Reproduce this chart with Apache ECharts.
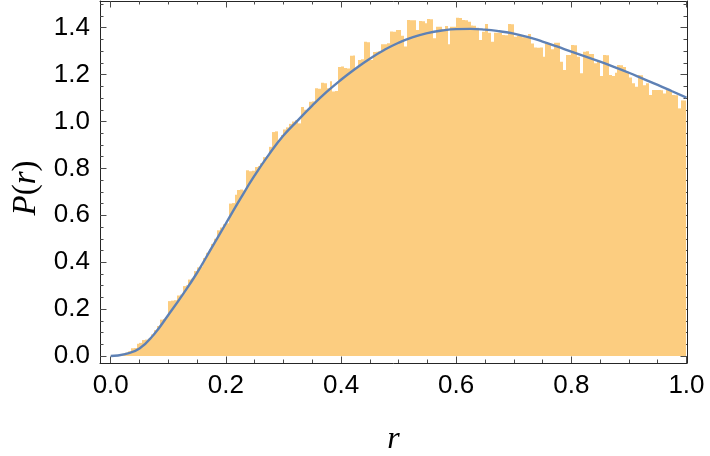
<!DOCTYPE html>
<html>
<head>
<meta charset="utf-8">
<script src="https://cdn.jsdelivr.net/npm/echarts@6/dist/echarts.min.js"></script>
<style>html,body{margin:0;padding:0;background:#fff;}#c{width:710px;height:456px;}</style>
</head>
<body>
<div id="c"></div>
<script>
// ---- data ----
const binWidth = 0.005;
const histValues = [
 0.001,0.003,0.004,0.006,0.009, 0.014,0.020,0.033,0.034,0.052,
 0.056,0.068,0.070,0.074,0.092, 0.110,0.128,0.155,0.158,0.164,
 0.234,0.236,0.238,0.258,0.262, 0.298,0.302,0.326,0.330,0.362,
 0.378,0.382,0.418,0.440,0.455, 0.478,0.500,0.536,0.548,0.562,
 0.566,0.650,0.652,0.688,0.708, 0.710,0.706,0.792,0.788,0.790,
 0.806,0.810,0.822,0.848,0.852, 0.892,0.955,0.958,0.920,0.942,
 0.966,0.975,0.990,1.000,1.006, 0.992,1.062,1.050,1.048,1.084,
 1.086,1.142,1.140,1.165,1.163, 1.142,1.172,1.128,1.130,1.232,
 1.235,1.228,1.226,1.280,1.282, 1.228,1.262,1.266,1.340,1.338,
 1.262,1.296,1.298,1.300,1.330, 1.330,1.334,1.384,1.383,1.390,
 1.390,1.366,1.320,1.433,1.432, 1.432,1.390,1.429,1.428,1.419,
 1.437,1.436,1.355,1.404,1.404, 1.394,1.407,1.330,1.404,1.404,
 1.443,1.442,1.433,1.432,1.425, 1.410,1.408,1.400,1.348,1.383,
 1.416,1.379,1.340,1.379,1.379, 1.378,1.369,1.368,1.416,1.415,
 1.362,1.366,1.365,1.359,1.358, 1.373,1.333,1.316,1.315,1.316,
 1.276,1.333,1.332,1.308,1.336, 1.336,1.255,1.220,1.284,1.284,
 1.326,1.325,1.276,1.206,1.298, 1.300,1.288,1.288,1.248,1.259,
 1.194,1.284,1.283,1.198,1.194, 1.208,1.241,1.240,1.233,1.212,
 1.188,1.163,1.148,1.198,1.197, 1.155,1.163,1.113,1.134,1.134,
 1.134,1.133,1.120,1.134,1.134, 1.113,1.112,1.056,1.090,1.090
];
const curveR = [0,0.025,0.05,0.075,0.1,0.125,0.15,0.175,0.2,0.225,0.25,0.275,0.3,0.325,0.35,0.375,0.4,0.425,0.45,0.475,0.5,
  0.525,0.55,0.575,0.6,0.625,0.65,0.675,0.7,0.725,0.75,0.775,0.8,0.825,0.85,0.875,0.9,0.925,0.95,0.975,1.0];
const curveP = [0,0.008,0.032,0.092,0.175,0.262,0.355,0.46,0.565,0.67,0.77,0.86,0.94,1.005,1.068,1.126,1.178,1.225,1.268,1.305,1.336,
  1.36,1.377,1.388,1.394,1.395,1.392,1.385,1.375,1.36,1.341,1.32,1.298,1.277,1.255,1.232,1.208,1.182,1.156,1.129,1.102];
const xMajor = [0,0.2,0.4,0.6,0.8,1.0];
const xMinor = [0.05,0.1,0.15,0.25,0.3,0.35,0.45,0.5,0.55,0.65,0.7,0.75,0.85,0.9,0.95];
const yMajor = [0,0.2,0.4,0.6,0.8,1.0,1.2,1.4];
const yMinor = [0.05,0.1,0.15,0.25,0.3,0.35,0.45,0.5,0.55,0.65,0.7,0.75,0.85,0.9,0.95,1.05,1.1,1.15,1.25,1.3,1.35,1.45,1.5];
const xTitle = 'r';
const yTitle = '{i|P}{u|(}{i|r}{u|)}';

// ---- chart ----
const X_MIN = -0.0186, X_MAX = 1.0009, Y_MIN = -0.0299, Y_MAX = 1.514;
const histData = histValues.map((v, i) => [i * binWidth, (i + 1) * binWidth, v]);
const curveData = curveR.map((r, i) => [r, curveP[i]]);

const frameColor = '#262626', tickColor = '#4a4a4a';
const labelFont = { color: '#000', fontFamily: 'Liberation Sans, Arial, sans-serif', fontSize: 26 };
const serif = 'Liberation Serif, Times New Roman, serif';

function xAx(pos, ticks, len, withLine, withLabel) {
  return {
    type: 'value', position: pos, min: X_MIN, max: X_MAX,
    axisLine: { show: withLine, onZero: false, lineStyle: { color: frameColor, width: 1 } },
    axisTick: { show: true, inside: true, length: len, customValues: ticks, lineStyle: { color: tickColor, width: 1 } },
    axisLabel: withLabel ? Object.assign({ show: true, customValues: ticks, margin: 10, formatter: v => v.toFixed(1) }, labelFont) : { show: false },
    splitLine: { show: false }
  };
}
function yAx(pos, ticks, len, withLine, withLabel) {
  return {
    type: 'value', position: pos, min: Y_MIN, max: Y_MAX,
    axisLine: { show: withLine, onZero: false, lineStyle: { color: frameColor, width: 1 } },
    axisTick: { show: true, inside: true, length: len, customValues: ticks, lineStyle: { color: tickColor, width: 1 } },
    axisLabel: withLabel ? Object.assign({ show: true, customValues: ticks, margin: 10, formatter: v => v.toFixed(1) }, labelFont) : { show: false },
    splitLine: { show: false }
  };
}

const xAxes = [
  xAx('bottom', xMajor, 6.5, true, true),
  xAx('bottom', xMinor, 3.5, false, false),
  xAx('top', xMajor, 6.5, true, false),
  xAx('top', xMinor, 3.5, false, false)
];
xAxes[0].name = xTitle;
xAxes[0].nameLocation = 'middle';
xAxes[0].nameGap = 61;
xAxes[0].nameTextStyle = { fontFamily: serif, fontStyle: 'italic', fontSize: 32, color: '#000' };

const yAxes = [
  yAx('left', yMajor, 6.5, true, true),
  yAx('left', yMinor, 3.5, false, false),
  yAx('right', yMajor, 6.5, true, false),
  yAx('right', yMinor, 3.5, false, false)
];

const chart = echarts.init(document.getElementById('c'), null, { renderer: 'canvas' });
chart.setOption({
  animation: false,
  backgroundColor: '#fff',
  grid: { left: 100, top: 1, width: 587, height: 362, containLabel: false, outerBoundsMode: 'none' },
  xAxis: xAxes,
  yAxis: yAxes,
  graphic: [{
    type: 'text',
    x: 26, y: 188,
    rotation: Math.PI / 2,
    style: {
      text: yTitle,
      align: 'center',
      verticalAlign: 'middle',
      fill: '#000',
      rich: {
        i: { fontFamily: serif, fontStyle: 'italic', fontSize: 33, fill: '#000' },
        u: { fontFamily: serif, fontSize: 33, fill: '#000' }
      }
    }
  }],
  series: [
    {
      type: 'custom',
      xAxisIndex: 0, yAxisIndex: 0,
      clip: true,
      data: histData,
      renderItem: function (params, api) {
        const p0 = api.coord([api.value(0), api.value(2)]);
        const p1 = api.coord([api.value(1), 0]);
        const x0 = Math.round(p0[0]), x1 = Math.round(p1[0]);
        return {
          type: 'rect',
          shape: { x: x0, y: p0[1], width: x1 - x0, height: p1[1] - p0[1] },
          style: { fill: '#FCCD80' }
        };
      },
      encode: { x: [0, 1], y: 2 }
    },
    {
      type: 'line',
      xAxisIndex: 0, yAxisIndex: 0,
      data: curveData,
      smooth: 0.5,
      showSymbol: false,
      symbol: 'none',
      lineStyle: { color: '#5E81B5', width: 2.4 },
      z: 5
    }
  ]
});
</script>
</body>
</html>
